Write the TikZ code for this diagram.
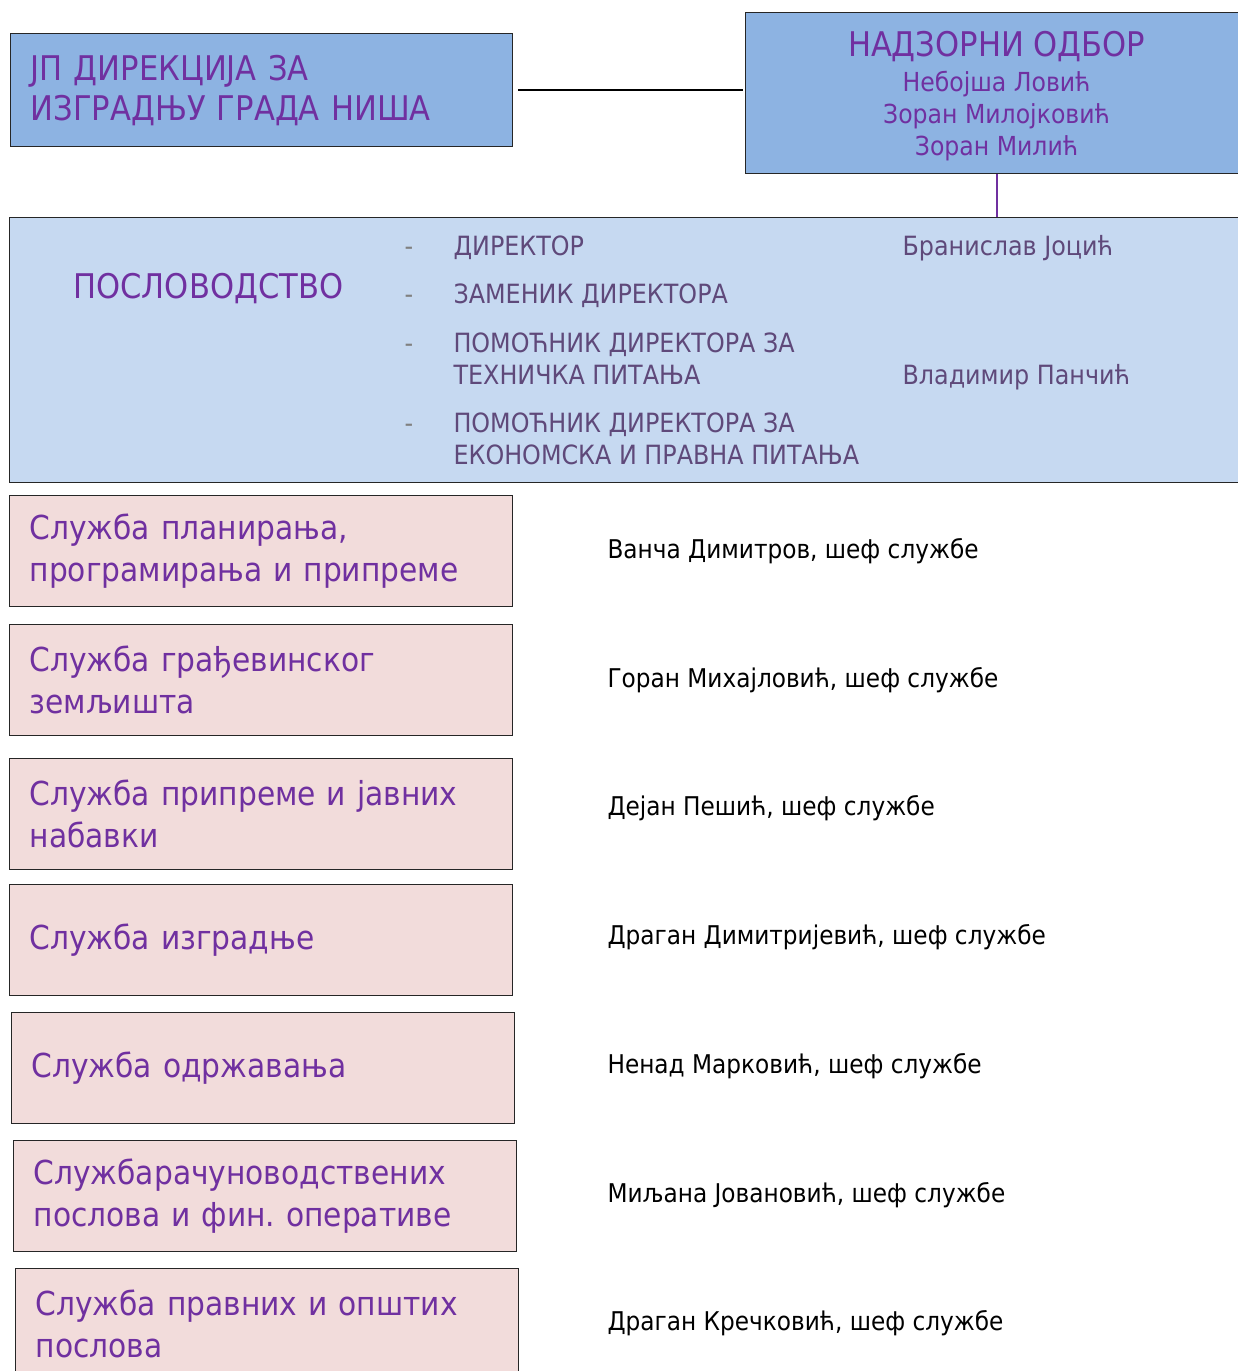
\documentclass[tikz,border=0pt]{standalone}
\usepackage{fontspec}
\setmainfont[FakeStretch=0.9]{DejaVu Sans}
\usepackage{xcolor}
\definecolor{boardblue}{HTML}{8DB3E2}
\definecolor{mgmtblue}{HTML}{C6D9F1}
\definecolor{servpink}{HTML}{F2DCDB}
\definecolor{titlepurple}{HTML}{7030A0}
\definecolor{itemgray}{HTML}{5F497A}
\frenchspacing

\begin{document}
\begin{tikzpicture}[x=1pt, y=-1pt,
    box/.style={draw=black!85, line width=1.2pt, inner sep=0pt, anchor=north west},
    service/.style={box, fill=servpink, minimum width=503pt, minimum height=111pt, inner xsep=20pt, text width=463pt, align=left, text=titlepurple, font=\fontsize{33}{42}\selectfont},
    chief/.style={anchor=west, font=\fontsize{25.8}{30}\selectfont},
    item/.style={anchor=base west, text=itemgray, font=\fontsize{26.5}{32}\selectfont}]
    \useasboundingbox (0,0) rectangle (1238,1371);

    \node[box, fill=boardblue, minimum width=502pt, minimum height=113pt, inner xsep=20pt, text width=462pt, align=left, text=titlepurple, font=\fontsize{34}{40}\selectfont] (dir) at (10,33) {ЈП ДИРЕКЦИЈА ЗА\\ИЗГРАДЊУ ГРАДА НИША};
    \node[box, fill=boardblue, minimum width=502pt, minimum height=161pt, align=center, text=titlepurple, font=\fontsize{26.2}{32}\selectfont] (board) at (745,12) {{\fontsize{34}{36}\selectfont\rule{0pt}{32pt}НАДЗОРНИ ОДБОР}\\[3pt]Небојша Ловић\\Зоран Милојковић\\Зоран Милић};
    \node[box, fill=mgmtblue, minimum width=1236pt, minimum height=265pt] (mgmt) at (9,217) {};

    \draw[line width=2pt, shorten <=5pt, shorten >=2pt] (dir.east) -- (dir.east -| board.west);
    \draw[titlepurple, line width=2pt] (board.south) -- (board.south |- mgmt.north);

    \node[anchor=base west, text=titlepurple, font=\fontsize{34}{40}\selectfont] (mgmttitle) at (70,298) {ПОСЛОВОДСТВО};
    \foreach \y [count=\i] in {255, 303, 352, 432}
        \node[item, text=gray] (dash\i) at (401,\y) {-};
    \foreach \y/\txt [count=\i] in {255/ДИРЕКТОР, 303/ЗАМЕНИК ДИРЕКТОРА, 352/ПОМОЋНИК ДИРЕКТОРА ЗА, 384/ТЕХНИЧКА ПИТАЊА, 432/ПОМОЋНИК ДИРЕКТОРА ЗА, 464/ЕКОНОМСКА И ПРАВНА ПИТАЊА}
        \node[item] (item\i) at (450,\y) {\txt};
    \node[item] (director) at (899,255) {Бранислав Јоцић};
    \node[item] (assistant) at (899,384) {Владимир Панчић};

    \foreach \x/\y/\txt/\cy/\name [count=\i] in {
        9/495/{Служба планирања,\\програмирања и припреме}/551/{Ванча Димитров, шеф службе},
        9/624/{Служба грађевинског\\земљишта}/680/{Горан Михајловић, шеф службе},
        9/758/{Служба припреме и јавних\\набавки}/808/{Дејан Пешић, шеф службе},
        9/884/{Служба изградње}/937/{Драган Димитријевић, шеф службе},
        11/1012/{Служба одржавања}/1066/{Ненад Марковић, шеф службе},
        13/1140/{Службарачуноводствених\\послова и фин. оперативе}/1195/{Миљана Јовановић, шеф службе},
        15/1268/{Служба правних и општих\\послова}/1323/{Драган Кречковић, шеф службе}} {
        \node[service] (serv\i) at (\x,\y) {\txt};
        \node[chief] (chief\i) at (604,\cy) {\name};
    }
\end{tikzpicture}
\end{document}
